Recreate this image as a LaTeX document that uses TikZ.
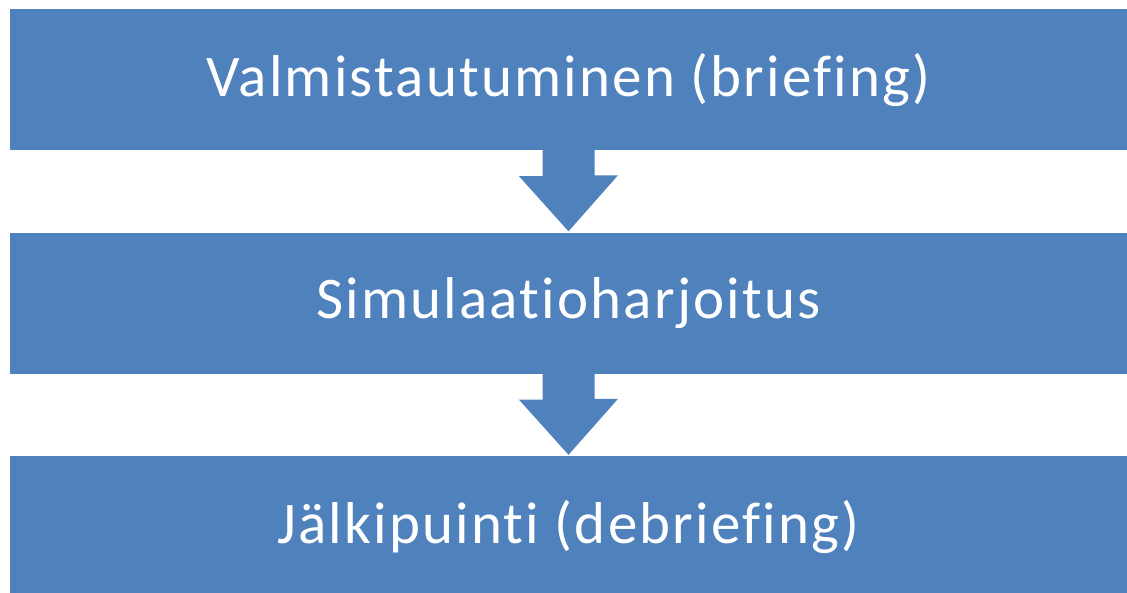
\documentclass[tikz,border=0pt]{standalone}
\usepackage{fontspec}
\setmainfont[Ligatures=NoCommon, LetterSpace=3.7]{Carlito}
\definecolor{stepblue}{HTML}{4F81BD}
\tikzset{
  stagebox/.style={fill=stepblue, text=white, minimum width=1117pt,
    minimum height=141pt, inner sep=0pt, font=\fontsize{59}{70}\selectfont},
  flowarrow/.style={fill=stepblue}
}
\begin{document}
\begin{tikzpicture}[x=1pt, y=1pt]
    \useasboundingbox (0, 0) rectangle (1127, -592);

    \node[stagebox] (valm) at (568.5, -79.5) {Valmistautuminen (briefing)};
    \node[stagebox] (sim) at (568.5, -303) {Simulaatioharjoitus};
    \node[stagebox] (jalki) at (568.5, -526.5) {Jälkipuinti (debriefing)};

    \foreach \a/\b in {valm/sim, sim/jalki}
      \fill[flowarrow] ([xshift=-26pt]\a.south) -- ++(0, -26) -- ++(-23.5, 0)
        -- ([yshift=1pt]\b.north) -- ++(49.5, 56) -- ++(-23.5, 0)
        -- ++(0, 26) -- cycle;
  \end{tikzpicture}
\end{document}
